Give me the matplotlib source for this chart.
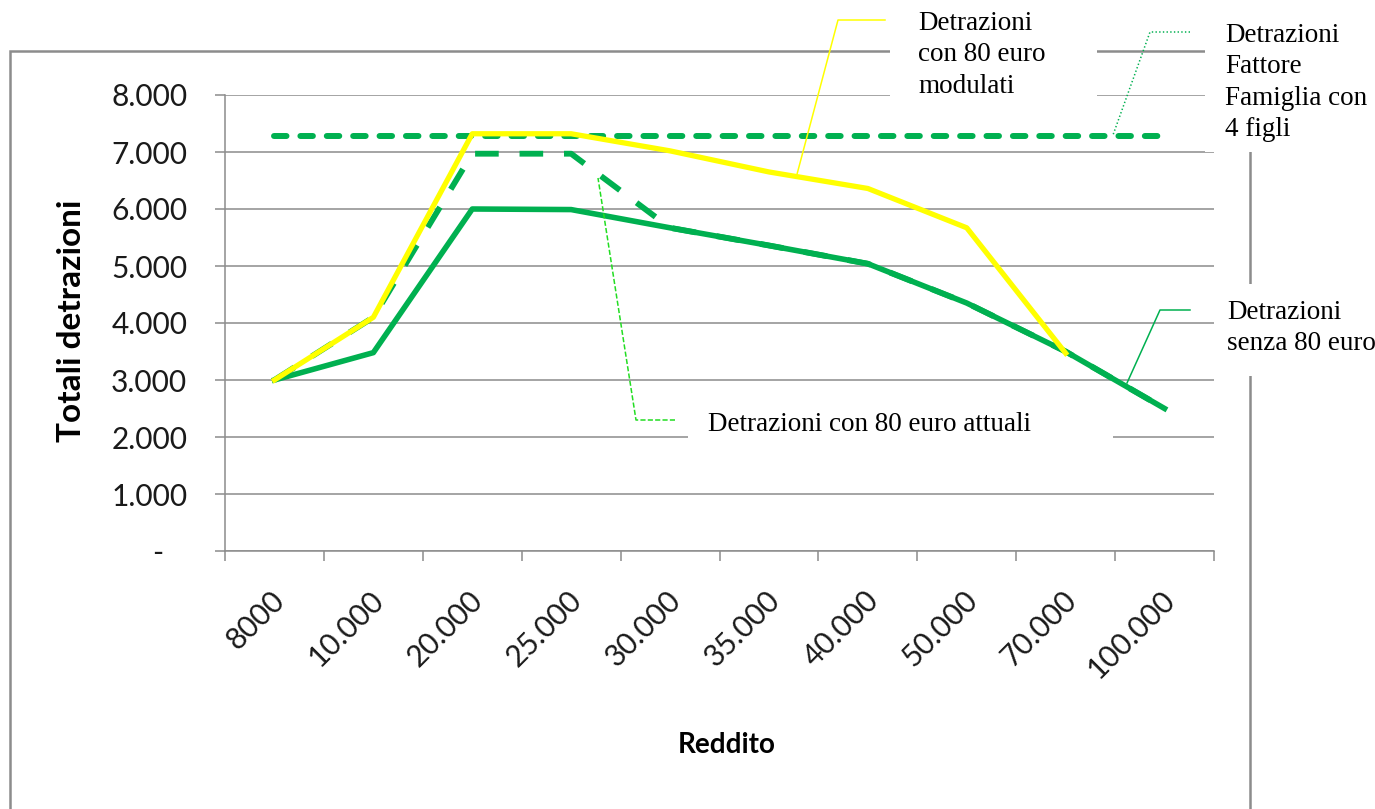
import numpy as np
import matplotlib
matplotlib.use("Agg")
import matplotlib.pyplot as plt
from matplotlib.lines import Line2D
from matplotlib.patches import Rectangle
from matplotlib.transforms import ScaledTranslation

categories = ['8000', '10.000', '20.000', '25.000', '30.000',
              '35.000', '40.000', '50.000', '70.000', '100.000']
senza_80 = [3000, 3480, 6000, 5990, 5670, 5360, 5040, 4350, 3500, 2500]
con_80_attuali = [3000, 4100, 6970, 6970, 5670, 5360, 5040, 4350, 3500, 2500]
con_80_modulati = [3000, 4100, 7320, 7320, 7020, 6650, 6360, 5670, 3470, np.nan]
fattore_famiglia = [7280] * 10
yticks = [0, 1000, 2000, 3000, 4000, 5000, 6000, 7000, 8000]
ytick_labels = ['-   ', '1.000', '2.000', '3.000', '4.000',
                '5.000', '6.000', '7.000', '8.000']

W, H = 1375, 809
GREEN = '#00B050'
YELLOW = '#FFFF00'
GRID = '#8c8c8c'

plt.rcParams['lines.scale_dashes'] = False


def px(x, y):
    return x / W, 1 - y / H


fig = plt.figure(figsize=(W / 100, H / 100), dpi=100)
ax = fig.add_axes([225 / W, 1 - 551 / H, 989 / W, 456 / H])

x = np.arange(len(categories))
ax.plot(x, fattore_famiglia, color=GREEN, lw=4.3, dashes=(9, 10),
        solid_capstyle='round', dash_capstyle='round', zorder=3)
ax.plot(x, senza_80, color=GREEN, lw=4.0, zorder=3)
ax.plot(x, con_80_attuali, color=GREEN, lw=4.2, dashes=(17, 15), zorder=4)
ax.plot(x, con_80_modulati, color=YELLOW, lw=3.8, zorder=5)

ax.set_xlim(-0.5, len(categories) - 0.5)
ax.set_ylim(0, 8000)

tick_font = dict(family='Lato', size=21.5, color='#1a1a1a')
ax.set_yticks(yticks)
ax.set_yticklabels(ytick_labels, fontdict=tick_font)
ax.set_xticks(np.arange(-0.5, len(categories)), labels=[])
ax.set_xticks(x, minor=True)
ax.set_xticklabels(categories, minor=True, fontdict=tick_font,
                   rotation=45, ha='right', va='center', rotation_mode='anchor')
ax.tick_params(axis='y', direction='out', length=7.2, width=1.1, color=GRID, pad=20)
ax.tick_params(axis='x', which='major', direction='out', length=7.2, width=1.1, color=GRID)
ax.tick_params(axis='x', which='minor', length=0, pad=32)
for lbl in ax.get_xticklabels(minor=True):
    lbl.set_transform(lbl.get_transform() + ScaledTranslation(0.06, 0, fig.dpi_scale_trans))

ax.grid(axis='y', color=GRID, lw=1.1)
ax.set_axisbelow(True)
for side in ['top', 'right']:
    ax.spines[side].set_visible(False)
for side in ['left', 'bottom']:
    ax.spines[side].set_color(GRID)
    ax.spines[side].set_linewidth(1.1)

ax.set_ylabel('Totali detrazioni', family='Lato', size=24, weight='bold')
ax.yaxis.set_label_coords((86 - 225) / 989, (551 - 321) / 456)
ax.set_xlabel('Reddito', family='Lato', size=20, weight='bold', va='top')
ax.xaxis.set_label_coords((727 - 225) / 989, (551 - 732) / 456)

# outer chart frame
fig.add_artist(Rectangle(px(10, 900), 1240 / W, 849 / H, transform=fig.transFigure,
                         fill=False, edgecolor=GRID, lw=1.8, zorder=3))

# white boxes behind the data labels
boxes = [(890, 0, 207, 108), (1205, 0, 170, 152), (1215, 284, 160, 92), (688, 398, 425, 52)]
for bx, by, bw, bh in boxes:
    fig.add_artist(Rectangle(px(bx, by + bh), bw / W, bh / H, transform=fig.transFigure,
                             facecolor='white', edgecolor='none', zorder=4))

label_font = dict(family='Liberation Serif', size=19.5, color='black', zorder=6,
                  linespacing=1.33, va='top', ha='left')
fig.text(*px(918, 11), 'Detrazioni\ncon 80 euro\nmodulati', **label_font)
fig.text(*px(1225, 23), 'Detrazioni\nFattore\nFamiglia con\n4 figli', **label_font)
fig.text(*px(1227, 300), 'Detrazioni\nsenza 80 euro', **label_font)
fig.text(*px(708, 412), 'Detrazioni con 80 euro attuali', **label_font)

# leader lines
leaders = [
    ([885, 838, 796], [20, 20, 178], YELLOW, '-'),
    ([1190, 1150, 1113], [32, 32, 135], GREEN, ':'),
    ([675, 636, 598], [420, 420, 178], '#22dd22', '--'),
    ([1190, 1160, 1127], [310, 310, 383], GREEN, '-'),
]
for xs, ys, col, ls in leaders:
    fx = [v / W for v in xs]
    fy = [1 - v / H for v in ys]
    fig.add_artist(Line2D(fx, fy, transform=fig.transFigure, color=col, lw=1.1,
                          ls=ls, zorder=7))

fig.savefig('out.png', dpi=100, facecolor='white')
